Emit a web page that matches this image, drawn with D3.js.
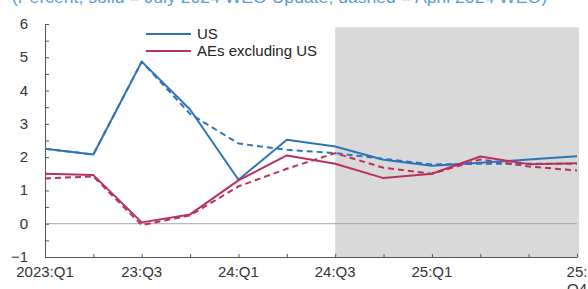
<!DOCTYPE html>
<html>
<head>
<meta charset="utf-8">
<script src="https://cdn.jsdelivr.net/npm/d3@7"></script>
<style>
  body { margin: 0; background: #fff; }
  svg { display: block; font-family: "Liberation Sans", Arial, sans-serif; }
</style>
</head>
<body>
<svg id="chart" width="588" height="289"></svg>
<script>
// Data
const quarters = ['2023:Q1', '23:Q2', '23:Q3', '23:Q4', '24:Q1', '24:Q2', '24:Q3', '24:Q4', '25:Q1', '25:Q2', '25:Q3', '25:Q4'];
const xTickLabels = { 0: ['2023:Q1'], 2: ['23:Q3'], 4: ['24:Q1'], 6: ['24:Q3'], 8: ['25:Q1'], 11: ['25:', 'Q4'] };
const yTicks = [-1, 0, 1, 2, 3, 4, 5, 6];
const usJuly = [2.25, 2.08, 4.87, 3.43, 1.32, 2.52, 2.32, 1.92, 1.74, 1.83, 1.93, 2.03];
const usApril = [2.25, 2.08, 4.87, 3.30, 2.41, 2.22, 2.12, 1.95, 1.78, 1.80, 1.80, 1.80];
const aeJuly = [1.50, 1.46, 0.04, 0.28, 1.30, 2.05, 1.80, 1.37, 1.50, 2.02, 1.79, 1.82];
const aeApril = [1.36, 1.42, -0.04, 0.25, 1.12, 1.65, 2.12, 1.68, 1.50, 1.93, 1.72, 1.60];
const projStart = 6; // 24:Q3 onwards shaded

const blue = '#2f74b8';
const red = '#b8325c';

const svg = d3.select('#chart');

// Scales
const x = d3.scaleLinear().domain([0, quarters.length - 1]).range([45, 577]);
const y = d3.scaleLinear().domain([-1, 6]).range([257, 24]);

// Subtitle (clipped at the top in the source)
svg.append('text')
  .attr('x', 12)
  .attr('y', 3)
  .attr('fill', '#5b9bd5')
  .attr('font-size', 16)
  .attr('textLength', 535)
  .attr('lengthAdjust', 'spacingAndGlyphs')
  .text('(Percent; solid = July 2024 WEO Update; dashed = April 2024 WEO)');

// Projection shading
svg.append('rect')
  .attr('x', x(projStart))
  .attr('y', y(5.9))
  .attr('width', x(quarters.length - 1) + 2 - x(projStart))
  .attr('height', y(-1) - y(5.9))
  .attr('fill', '#d9d9d9');

// Zero line
svg.append('line')
  .attr('x1', x(0)).attr('x2', x(quarters.length - 1))
  .attr('y1', y(0)).attr('y2', y(0))
  .attr('stroke', '#a6a6a6')
  .attr('stroke-width', 1);

// Y axis
const yAxis = svg.append('g')
  .attr('transform', `translate(${x(0)},0)`)
  .call(d3.axisRight(y).tickValues(d3.range(-1, 6.01, 0.5)).tickSize(4).tickFormat(''));
yAxis.select('.domain').attr('stroke', '#555');
yAxis.selectAll('.tick line').attr('stroke', '#555');

svg.selectAll('.ylab')
  .data(yTicks)
  .enter().append('text')
  .attr('class', 'ylab')
  .attr('x', 28)
  .attr('y', d => y(d) + 5)
  .attr('text-anchor', 'end')
  .attr('font-size', 15)
  .attr('fill', '#333')
  .text(d => d < 0 ? '\u2212' + Math.abs(d) : d);

// X axis
const xAxis = svg.append('g')
  .attr('transform', `translate(0,${y(-1)})`)
  .call(d3.axisTop(x).tickValues(d3.range(quarters.length)).tickSize(3).tickSizeOuter(0).tickFormat(''));
xAxis.select('.domain').attr('stroke', '#555');
xAxis.selectAll('.tick line').attr('stroke', '#555');

const xl = svg.selectAll('.xlab')
  .data(Object.keys(xTickLabels).map(Number))
  .enter().append('text')
  .attr('class', 'xlab')
  .attr('x', d => x(d))
  .attr('y', 277)
  .attr('text-anchor', 'middle')
  .attr('font-size', 15)
  .attr('fill', '#333');
xl.selectAll('tspan')
  .data(d => xTickLabels[d].map(t => ({ t, i: d })))
  .enter().append('tspan')
  .attr('x', d => x(d.i))
  .attr('dy', (d, j) => j === 0 ? 0 : 17)
  .text(d => d.t);

// Lines
const line = d3.line().x((d, i) => x(i)).y(d => y(d));
const series = [
  { values: usApril, color: blue, dash: '6,4' },
  { values: aeApril, color: red, dash: '6,4' },
  { values: usJuly, color: blue, dash: null },
  { values: aeJuly, color: red, dash: null }
];
svg.selectAll('.series')
  .data(series)
  .enter().append('path')
  .attr('class', 'series')
  .attr('d', d => line(d.values))
  .attr('fill', 'none')
  .attr('stroke', d => d.color)
  .attr('stroke-width', 2)
  .attr('stroke-dasharray', d => d.dash)
  .attr('stroke-linejoin', 'round');

// Legend
const legend = [
  { name: 'US', color: blue },
  { name: 'AEs excluding US', color: red }
];
const lg = svg.selectAll('.legend')
  .data(legend)
  .enter().append('g')
  .attr('class', 'legend')
  .attr('transform', (d, i) => `translate(146,${34 + i * 17})`);
lg.append('line')
  .attr('x1', 0).attr('x2', 45)
  .attr('stroke', d => d.color)
  .attr('stroke-width', 2);
lg.append('text')
  .attr('x', 51)
  .attr('y', 5)
  .attr('font-size', 15)
  .attr('fill', '#222')
  .text(d => d.name);
</script>
</body>
</html>
